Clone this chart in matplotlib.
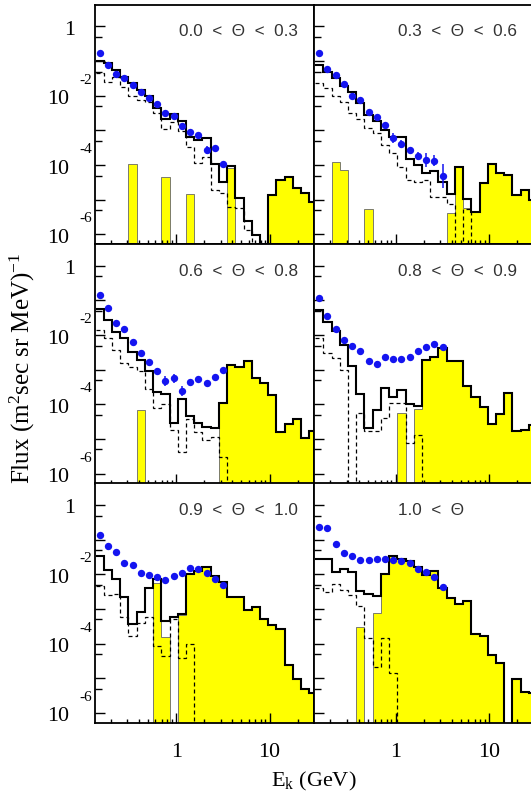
import numpy as np
import matplotlib
matplotlib.use("Agg")
import matplotlib.pyplot as plt
from matplotlib.ticker import FixedLocator, NullFormatter

plt.rcParams["font.family"] = ["Liberation Serif", "DejaVu Serif"]
plt.rcParams["mathtext.fontset"] = "custom"
plt.rcParams["mathtext.rm"] = "Liberation Serif"
plt.rcParams["mathtext.it"] = "Liberation Serif:italic"

N = None  # empty bin

# histogram binning: log10(E_k/GeV) of first edge and bin width
log_edge0 = -0.863
log_bin = 0.088
n_bins = 27
n_points = 16

titles = ["0.0  <  \u0398  <  0.3", "0.3  <  \u0398  <  0.6",
          "0.6  <  \u0398  <  0.8", "0.8  <  \u0398  <  0.9",
          "0.9  <  \u0398  <  1.0", "1.0  <  \u0398"]

# all values are log10(flux)
solid_a = [-0.99, -1.06, -1.25, -1.46, -1.64, -1.83, -2.02, -2.36, -2.68, -2.52, -2.72, -3.18, -3.28, -3.23,
           -3.97, -4.48, -4.03, -4.96, -5.61, -6.02, N, -4.87, -4.43, -4.34, -4.65, -4.82, -5.06]
dashed_a = [-1.35, -1.59, -1.45, -1.75, -2.02, -2.12, -2.17, -2.50, -2.97, -2.75, -3.03, -3.47, -3.95, -3.76,
            -4.72, -4.80, -5.20, -5.25, -5.88, N, N, N, N, N, N, N, N]
yellow_a = [N, N, N, N, -3.98, N, N, N, -4.35, N, N, -4.84, N, N, N, N, -4.09, N, N, N, N,
            -4.87, -4.43, -4.34, -4.65, -4.82, -5.06]
points_a = [-0.77, -1.11, -1.37, -1.49, -1.69, -1.89, -2.06, -2.24, -2.49, -2.57, -2.87, -3.04, -3.14, -3.56,
            -3.52, -3.98]
err_a = [0, 0, 0, 0, 0, 0, 0, 0, 0, 0, 0, 0, 0, 0.12, 0.06, 0]

solid_b = [-1.11, -1.30, -1.49, -1.71, -1.88, -2.22, -2.55, -2.72, -2.99, -3.18, -3.18, -3.83, -4.00, -4.24,
           -4.16, -4.48, -4.84, -4.07, -4.98, -5.35, -4.51, -3.98, -4.22, -4.29, -4.87, -4.72, -5.00]
dashed_b = [-1.62, -1.78, -2.00, -2.17, -2.50, -2.68, -2.94, -3.06, -3.42, -3.66, -4.05, -4.43, -4.48, -4.43,
            -4.91, -4.93, -5.11, N, -5.27, N, N, N, N, N, N, N, N]
yellow_b = [N, N, -3.90, -4.14, N, N, -5.28, N, N, N, N, N, N, N, N, N,
            -5.38, -4.07, -5.25, -5.32, -4.51, -3.98, -4.22, -4.29, -4.87, -4.72, -5.00]
points_b = [-0.77, -1.22, -1.39, -1.66, -2.00, -2.12, -2.46, -2.62, -2.84, -3.21, -3.39, -3.56, -3.73, -3.85,
            -3.87, -4.31]
err_b = [0, 0, 0, 0, 0, 0, 0.05, 0, 0.05, 0.15, 0.12, 0.05, 0.12, 0.2, 0.17, 0.35]

solid_c = [-1.25, -1.56, -1.90, -2.09, -2.48, -2.72, -3.03, -3.63, -3.70, -4.53, -3.85, -4.35, -4.53, -4.66,
           -4.69, -3.97, -2.86, -2.93, -2.76, -3.25, -3.39, -3.73, -4.79, -4.57, -4.43, -4.98, -4.77]
dashed_c = [-1.85, -2.09, -2.43, -2.81, -2.93, -3.03, -3.56, -4.11, -3.99, -4.74, -5.37, -4.43, -4.79, -5.03,
            -4.93, -5.51, N, N, N, N, N, N, N, N, N, N, N]
yellow_c = [N, N, N, N, N, -4.16, N, N, N, N, N, N, N, N, N,
            -3.97, -2.86, -2.93, -2.76, -3.25, -3.39, -3.73, -4.79, -4.57, -4.43, -4.98, -4.77]
points_c = [-0.84, -1.22, -1.66, -1.83, -2.21, -2.52, -2.79, -3.03, -3.32, -3.25, -3.61, -3.34, -3.28, -3.39,
            -3.22, -3.01]
err_c = [0, 0, 0, 0, 0, 0, 0, 0.08, 0.15, 0.12, 0.15, 0, 0, 0.05, 0, 0]

solid_d = [-1.29, -1.61, -1.87, -2.28, -2.89, -3.70, -4.69, -4.16, -3.52, -3.78, -3.58, -4.00, -4.05, -2.72,
           -2.62, -2.38, -2.74, -2.74, -3.47, -3.78, -4.07, -4.57, -4.28, -3.66, -4.76, -4.74, -4.60]
dashed_d = [-2.09, -2.52, -2.67, -3.01, N, -4.26, -4.76, -4.76, -4.39, -3.97, -3.95, -5.11, -4.89,
            N, N, N, N, N, N, N, N, N, N, N, N, N, N]
yellow_d = [N, N, N, N, N, N, N, N, N, N, -4.26, N, -4.14,
            -2.72, -2.62, -2.38, -2.74, -2.74, -3.47, -3.78, -4.07, -4.57, -4.28, -3.66, -4.76, -4.74, -4.60]
points_d = [-0.93, -1.46, -1.82, -2.14, -2.31, -2.45, -2.74, -2.83, -2.62, -2.70, -2.70, -2.62, -2.46, -2.33,
            -2.26, -2.35]
err_d = [0, 0, 0, 0, 0, 0, 0.05, 0.08, 0, 0, 0, 0, 0, 0, 0, 0]

solid_e = [-1.48, -1.87, -2.14, -2.64, -3.43, -3.09, -2.40, -2.14, -3.36, -3.24, -3.15, -1.98, -1.89, -1.79,
           -2.06, -2.21, -2.66, -2.66, -3.02, -2.93, -3.29, -3.46, -3.58, -4.61, -5.03, -5.32, -5.43]
dashed_e = [-2.33, -2.59, -2.56, -3.22, -3.78, -3.41, -3.24, -4.08, -4.37, -3.30, -4.42, -4.01,
            N, N, N, N, N, N, N, N, N, N, N, N, N, N, N]
yellow_e = [N, N, N, N, N, N, N, -2.25, -3.81, N, -3.17, -1.98, -1.89, -1.79,
            -2.06, -2.21, -2.66, -2.66, -3.02, -2.93, -3.29, -3.46, -3.58, -4.61, -5.03, -5.32, -5.43]
points_e = [-0.86, -1.19, -1.36, -1.66, -1.74, -1.97, -2.01, -2.08, -2.16, -2.06, -1.95, -1.82, -1.84, -1.95,
            -2.13, -2.31]
err_e = [0, 0.1, 0, 0, 0, 0, 0, 0, 0, 0, 0, 0, 0, 0, 0, 0]

solid_f = [-1.55, -1.55, -1.92, -1.85, -1.92, -2.48, -2.56, -2.62, -1.98, -1.48, -1.55, -1.62, -1.79, -2.01,
           -1.89, -2.40, -2.69, -2.85, -2.78, -3.72, -3.78, -4.33, -4.57, N, -5.03, -5.40, -5.43]
dashed_f = [-2.40, -2.50, -2.27, -2.44, -2.59, -2.91, -3.84, -4.66, -3.84, -4.84,
            N, N, N, N, N, N, N, N, N, N, N, N, N, N, N, N, N]
yellow_f = [N, N, N, N, N, -3.51, N, -3.12, -1.98, -1.48, -1.55, -1.62, -1.79, -2.01,
            -1.89, -2.40, -2.69, -2.85, -2.78, -3.72, -3.78, -4.33, -4.57, N, -5.03, -5.40, -5.43]
points_f = [-0.62, -0.66, -1.12, -1.37, -1.48, -1.58, -1.58, -1.56, -1.55, -1.58, -1.60, -1.68, -1.85, -1.92,
            -2.08, -2.35]
err_f = [0] * 16

panels = [
    (solid_a, dashed_a, yellow_a, points_a, err_a),
    (solid_b, dashed_b, yellow_b, points_b, err_b),
    (solid_c, dashed_c, yellow_c, points_c, err_c),
    (solid_d, dashed_d, yellow_d, points_d, err_d),
    (solid_e, dashed_e, yellow_e, points_e, err_e),
    (solid_f, dashed_f, yellow_f, points_f, err_f),
]

FLOOR = 1e-9


def flux(logs):
    return np.array([FLOOR if v is None else 10.0 ** v for v in logs])


edges = 10.0 ** (log_edge0 + log_bin * np.arange(n_bins + 1))
centers = 10.0 ** (log_edge0 + log_bin * (np.arange(n_points) + 0.5))

W, H = 531, 799
fig = plt.figure(figsize=(W / 100, H / 100), dpi=100)

col_left = [94.7, 314.3]
col_w = 219.6
row_top = [4.9, 244.2, 483.5]
row_h = 239.3
xlim = (10 ** -0.872, 30.1)
ylim = (5.2e-7, 4.2)
blue = "#1414f0"

for i, (solid, dashed, yellow, points, err) in enumerate(panels):
    row, col = divmod(i, 2)
    rect = [col_left[col] / W, 1 - (row_top[row] + row_h) / H, col_w / W, row_h / H]
    ax = fig.add_axes(rect)
    ax.set_xscale("log")
    ax.set_yscale("log")
    ax.set_xlim(*xlim)
    ax.set_ylim(*ylim)

    ax.stairs(flux(yellow), edges, baseline=FLOOR, fill=True,
              facecolor="#ffff00", edgecolor="#666666", linewidth=0.6, zorder=1)
    ax.stairs(flux(dashed), edges, baseline=None, color="black",
              linewidth=0.9, linestyle=(0, (3.2, 2.4)), zorder=2)
    ax.stairs(flux(solid), edges, baseline=None, color="black", linewidth=1.5, zorder=3)

    y = flux(points)
    e = np.array(err)
    ax.errorbar(centers, y, yerr=[y - y * 10 ** -e, y * 10 ** e - y], fmt="o", color=blue,
                ms=5.3, mew=0, elinewidth=1.1, capsize=0, zorder=4)

    ax.xaxis.set_major_locator(FixedLocator([1, 10]))
    ax.xaxis.set_minor_locator(FixedLocator([0.2, 0.3, 0.4, 0.5, 0.6, 0.7, 0.8, 0.9,
                                             2, 3, 4, 5, 6, 7, 8, 9, 20, 30]))
    ax.yaxis.set_major_locator(FixedLocator([10.0 ** n for n in range(-6, 1)]))
    ax.yaxis.set_minor_locator(FixedLocator([5 * 10.0 ** n for n in range(-7, 0)]))
    for axis in (ax.xaxis, ax.yaxis):
        axis.set_major_formatter(NullFormatter())
        axis.set_minor_formatter(NullFormatter())
    ax.tick_params(which="both", direction="in", top=False, right=False, width=1.0, color="black")
    ax.tick_params(which="major", length=7.0)
    ax.tick_params(axis="x", which="minor", length=3.2)
    ax.tick_params(axis="y", which="minor", length=5.0)
    for sp in ax.spines.values():
        sp.set_linewidth(1.3)

    ax.text(0.383, 0.888, titles[i], transform=ax.transAxes, ha="left", va="center",
            fontsize=12.3, family="Liberation Sans", color="#333333")

    if col == 0:
        yt = ax.get_yaxis_transform()
        ax.annotate("1", xy=(0, 1.0), xycoords=yt, xytext=(-19.5, -8.3), textcoords="offset pixels",
                    ha="right", va="baseline", fontsize=15.8)
        for n in (-2, -4, -6):
            ax.annotate("10", xy=(0, 10.0 ** n), xycoords=yt, xytext=(-25.5, -8.5),
                        textcoords="offset pixels", ha="right", va="baseline", fontsize=15.8)
            ax.annotate(str(n), xy=(0, 10.0 ** n), xycoords=yt, xytext=(-3, 12),
                        textcoords="offset pixels", ha="right", va="baseline", fontsize=11)
    if row == 2:
        xt = ax.get_xaxis_transform()
        for v, s in ((1, "1"), (10, "10")):
            ax.annotate(s, xy=(v, 0), xycoords=xt, xytext=(0, -30), textcoords="offset pixels",
                        ha="center", va="center", fontsize=15.8)

fig.text(22 / W, 1 - 368 / H, r"Flux (m$^2$sec sr MeV)$^{-1}$", rotation=90,
         ha="center", va="center", fontsize=18)
fig.text(314 / W, 1 - 781 / H, r"E$_\mathrm{k}$ (GeV)", ha="center", va="center", fontsize=16)

fig.savefig("out.png", dpi=100)
